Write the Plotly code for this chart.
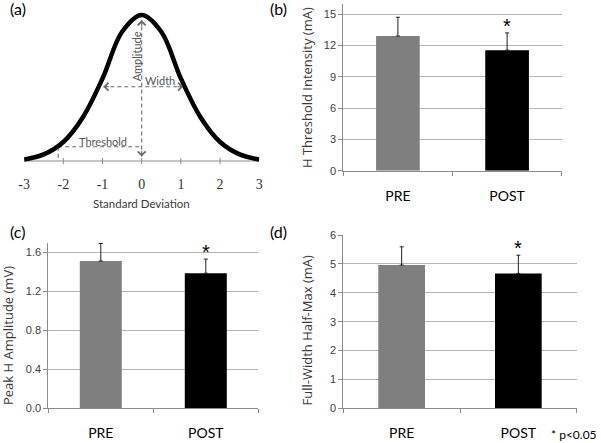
import plotly.graph_objects as go

# ---------------- data ----------------
sd_ticks = [-3, -2, -1, 0, 1, 2, 3]
sd_tick_text = ["-3", "-2", "-1", "0", "1", "2", "3"]
sd_x = [-3, -2.5, -2, -1.5, -1, -0.5, 0, 0.5, 1, 1.5, 2, 2.5, 3]
curve_y = [0.01, 0.045, 0.13, 0.30, 0.565, 0.885, 1.0, 0.885, 0.565, 0.30, 0.13, 0.045, 0.01]
amp_x = 0
amp_top = 0.965
amp_bottom = 0.03
width_level = 0.509
width_left = -0.98
width_right = 1.06
thr_x = -2.13
thr_level = 0.098

categories = ["PRE", "POST"]
thresh_mean = [12.9, 11.55]
thresh_err = [1.8, 1.65]
amp_mean = [1.51, 1.385]
amp_err = [0.18, 0.145]
fwhm_mean = [4.96, 4.67]
fwhm_err = [0.63, 0.63]
sig = [False, True]

W, H = 601, 443
def px_x(a, b):
    return [a / W, b / W]
def px_y(bottom, top):
    return [1 - bottom / H, 1 - top / H]

BAR_COLORS = ["#7f7f7f", "#000000"]
DASH_COL = "#6a6a6a"
TXT = "#3a3a3a"
CAL = "Lato"
fig = go.Figure()

# ---------------- panel (a) ----------------
fig.add_trace(go.Scatter(x=[sd_ticks[0], sd_ticks[-1]], y=[0, 0], mode="lines",
                         line=dict(color="#8c8c8c", width=1), xaxis="x", yaxis="y", hoverinfo="skip"))
tx, ty = [], []
for t in sd_ticks[1:-1]:
    tx += [t, t, None]
    ty += [-0.021, 0.021, None]
fig.add_trace(go.Scatter(x=tx, y=ty, mode="lines", line=dict(color="#8c8c8c", width=1),
                         xaxis="x", yaxis="y", hoverinfo="skip"))
dash = dict(color=DASH_COL, width=1.1, dash="4px,3px")
fig.add_trace(go.Scatter(x=[amp_x, amp_x], y=[amp_bottom, amp_top], mode="lines", line=dash,
                         xaxis="x", yaxis="y"))
fig.add_trace(go.Scatter(x=[width_left, width_right], y=[width_level, width_level], mode="lines",
                         line=dash, xaxis="x", yaxis="y"))
fig.add_trace(go.Scatter(x=[thr_x, amp_x, None, thr_x, thr_x], y=[thr_level, thr_level, None, thr_level, 0],
                         mode="lines", line=dash, xaxis="x", yaxis="y"))
fig.add_trace(go.Scatter(x=sd_x, y=curve_y, mode="lines", line=dict(color="black", width=4.5, shape="spline"),
                         xaxis="x", yaxis="y"))

def arrowhead(x, y, ax, ay):
    fig.add_annotation(x=x, y=y, ax=ax, ay=ay, xref="x", yref="y", axref="x", ayref="y",
                       text="", showarrow=True, arrowhead=4, arrowsize=1.4, arrowwidth=1.1,
                       arrowcolor=DASH_COL, standoff=0)

arrowhead(amp_x, amp_top, amp_x, amp_top - 0.05)
arrowhead(amp_x, amp_bottom, amp_x, amp_bottom + 0.05)
arrowhead(width_left, width_level, width_left + 0.18, width_level)
arrowhead(width_right, width_level, width_right - 0.18, width_level)

C = dict(xanchor="center", yanchor="middle", showarrow=False)
lab_font = dict(family=CAL, size=11, color="#555555")
fig.add_annotation(x=-0.13, y=0.714, xref="x", yref="y", text="Amplitude", textangle=-90, font=lab_font, **C)
fig.add_annotation(x=0.47, y=0.548, xref="x", yref="y", text="Width", font=lab_font, **C)
fig.add_annotation(x=-0.98, y=0.137, xref="x", yref="y", text="Threshold", font=lab_font, **C)
fig.add_annotation(x=0, y=1 - 203 / H, xref="x", yref="paper", text="Standard Deviation",
                   font=dict(family=CAL, size=11.5, color=TXT), **C)

# ---------------- bar panels ----------------
def bar_panel(xa, ya, means, errs):
    fig.add_trace(go.Bar(x=categories, y=means, marker=dict(color=BAR_COLORS, line=dict(width=0)),
                         width=0.4,
                         error_y=dict(type="data", array=errs, arrayminus=[0] * len(errs), symmetric=False,
                                      color="#222222", thickness=1, width=2),
                         xaxis=xa, yaxis=ya, showlegend=False))
    for c, m, e, s in zip(categories, means, errs, sig):
        if s:
            fig.add_annotation(x=c, y=m + e, xref=xa, yref=ya, text="*", showarrow=False,
                               xanchor="center", yanchor="bottom", yshift=-6,
                               font=dict(family="Liberation Sans", size=20, color="black"))

bar_panel("x2", "y2", thresh_mean, thresh_err)
bar_panel("x3", "y3", amp_mean, amp_err)
bar_panel("x4", "y4", fwhm_mean, fwhm_err)

common_x = dict(type="category", showgrid=False, zeroline=False, showline=True, linecolor="#8c8c8c",
                linewidth=1, ticks="outside", tickson="boundaries", ticklen=4, tickcolor="#8c8c8c",
                tickfont=dict(family=CAL, size=14, color="black"), ticklabelstandoff=12)
common_y = dict(showgrid=True, gridcolor="#b4b4b4", gridwidth=1.3, zeroline=False, showline=True,
                linecolor="#8c8c8c", linewidth=1, ticks="outside", ticklen=4, tickcolor="#8c8c8c",
                tickfont=dict(family="Liberation Sans", size=11, color="#404040"))

fig.update_layout(
    width=W, height=H, margin=dict(l=0, r=0, t=0, b=0, autoexpand=False),
    paper_bgcolor="white", plot_bgcolor="white", showlegend=False, bargap=0.6,
    xaxis=dict(domain=px_x(24.1, 259.3), range=[-3, 3], showgrid=False, zeroline=False, showline=False,
               tickvals=sd_ticks, ticktext=sd_tick_text, ticks="",
               tickfont=dict(family="Liberation Serif", size=14, color="#333333"),
               ticklabelstandoff=4, anchor="y"),
    yaxis=dict(domain=px_y(170, 5), range=[(161 - 170) / 146, (161 - 5) / 146], visible=False, anchor="x"),
    xaxis2=dict(common_x, domain=px_x(343.3, 561.7), anchor="y2"),
    yaxis2=dict(common_y, domain=px_y(170.7, 3.7), range=[0, 16], tickvals=[0, 3, 6, 9, 12, 15], anchor="x2"),
    xaxis3=dict(common_x, domain=px_x(48.3, 258.3), anchor="y3"),
    yaxis3=dict(common_y, domain=px_y(408.3, 242.5), range=[0, 1.7], tickvals=[0, 0.4, 0.8, 1.2, 1.6],
                tickformat=".1f", anchor="x3"),
    xaxis4=dict(common_x, domain=px_x(343.3, 576.7), anchor="y4"),
    yaxis4=dict(common_y, domain=px_y(408.3, 235), range=[0, 6], tickvals=[0, 1, 2, 3, 4, 5, 6], anchor="x4"),
)

title_font = dict(family="Open Sans", size=13, color=TXT)
for x, y, t in [(307, 88, "H Threshold Intensity (mA)"), (8, 336, "Peak H Amplitude (mV)"),
                (306.5, 331, "Full-Width Half-Max (mA)")]:
    fig.add_annotation(x=x / W, y=1 - y / H, xref="paper", yref="paper", text=t, textangle=-90,
                       font=title_font, **C)

panel_font = dict(family=CAL, size=16, color="black")
for x, y, t in [(17.5, 8.5, "(a)"), (278, 8.5, "(b)"), (17, 231.7, "(c)"), (278, 231.7, "(d)")]:
    fig.add_annotation(x=x / W, y=1 - y / H, xref="paper", yref="paper", text=t, font=panel_font, **C)
fig.add_annotation(x=599 / W, y=1 - 434 / H, xref="paper", yref="paper", text="* p<0.05",
                   xanchor="right", yanchor="middle", showarrow=False,
                   font=dict(family=CAL, size=12, color="black"))

fig.write_html("out.html", config={"displayModeBar": False},
               post_script="document.body.style.margin='0px';document.body.style.overflow='hidden';")
